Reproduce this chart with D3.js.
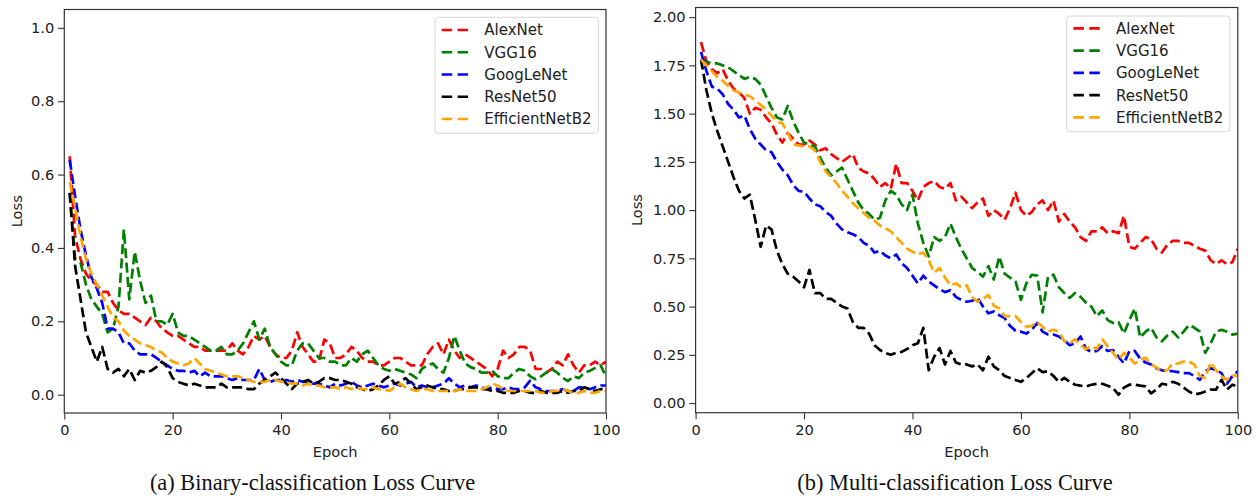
<!DOCTYPE html>
<html>
<head>
<meta charset="utf-8">
<script src="https://cdn.jsdelivr.net/npm/d3@7"></script>
<style>
  html, body { margin: 0; padding: 0; background: #fff; }
  svg { display: block; }
</style>
</head>
<body>
<svg id="chart" width="1260" height="498"></svg>
<script>
// ---------- DATA ----------
const seriesNames = ["AlexNet", "VGG16", "GoogLeNet", "ResNet50", "EfficientNetB2"];
const seriesColors = ["#ff0000", "#008000", "#0000ff", "#000000", "#ffa500"];
const epochs = d3.range(1, 101);

const xTicks = [0, 20, 40, 60, 80, 100];
const xTickLabels = ["0", "20", "40", "60", "80", "100"];
const yTicksA = [0, 0.2, 0.4, 0.6, 0.8, 1.0];
const yTickLabelsA = ["0.0", "0.2", "0.4", "0.6", "0.8", "1.0"];
const yTicksB = [0, 0.25, 0.5, 0.75, 1.0, 1.25, 1.5, 1.75, 2.0];
const yTickLabelsB = ["0.00", "0.25", "0.50", "0.75", "1.00", "1.25", "1.50", "1.75", "2.00"];

// (a) Binary-classification
const binAlexNet = [0.65,0.43,0.37,0.33,0.31,0.30,0.28,0.28,0.25,0.23,
  0.22,0.22,0.21,0.20,0.19,0.21,0.20,0.18,0.17,0.16,
  0.16,0.15,0.14,0.13,0.13,0.12,0.12,0.12,0.12,0.12,
  0.14,0.12,0.11,0.13,0.16,0.15,0.16,0.13,0.11,0.10,
  0.10,0.12,0.17,0.13,0.11,0.09,0.09,0.15,0.14,0.10,
  0.10,0.11,0.13,0.12,0.10,0.09,0.09,0.08,0.08,0.09,
  0.10,0.10,0.09,0.08,0.08,0.08,0.11,0.13,0.14,0.11,
  0.15,0.12,0.10,0.11,0.10,0.09,0.08,0.07,0.05,0.07,
  0.12,0.10,0.11,0.13,0.13,0.12,0.07,0.07,0.06,0.07,
  0.09,0.08,0.11,0.08,0.06,0.08,0.08,0.09,0.08,0.09];
const binVGG16 = [0.55,0.37,0.36,0.30,0.26,0.24,0.22,0.17,0.18,0.24,
  0.45,0.26,0.39,0.31,0.25,0.27,0.20,0.20,0.19,0.22,
  0.17,0.16,0.16,0.15,0.14,0.13,0.12,0.12,0.13,0.11,
  0.11,0.12,0.14,0.17,0.20,0.15,0.18,0.13,0.11,0.09,
  0.08,0.08,0.12,0.14,0.14,0.12,0.10,0.10,0.09,0.09,
  0.08,0.08,0.10,0.09,0.11,0.12,0.10,0.08,0.07,0.065,
  0.07,0.065,0.06,0.055,0.045,0.07,0.08,0.085,0.07,0.06,
  0.10,0.16,0.12,0.085,0.075,0.07,0.06,0.06,0.065,0.05,
  0.045,0.045,0.06,0.07,0.065,0.05,0.042,0.05,0.06,0.07,
  0.06,0.046,0.037,0.05,0.045,0.06,0.065,0.073,0.08,0.05];
const binGoogLeNet = [0.64,0.54,0.45,0.38,0.32,0.29,0.25,0.18,0.18,0.17,
  0.14,0.14,0.12,0.11,0.11,0.11,0.10,0.09,0.08,0.07,
  0.065,0.065,0.06,0.065,0.05,0.06,0.05,0.05,0.05,0.045,
  0.04,0.045,0.04,0.04,0.04,0.07,0.04,0.035,0.04,0.04,
  0.04,0.035,0.04,0.035,0.035,0.03,0.03,0.025,0.02,0.03,
  0.025,0.03,0.035,0.025,0.02,0.025,0.03,0.025,0.02,0.025,
  0.03,0.025,0.03,0.035,0.02,0.025,0.02,0.02,0.025,0.03,
  0.045,0.03,0.02,0.025,0.02,0.025,0.02,0.015,0.02,0.015,
  0.015,0.02,0.015,0.015,0.02,0.038,0.02,0.015,0.01,0.01,
  0.01,0.015,0.01,0.01,0.02,0.02,0.015,0.02,0.025,0.025];
const binResNet50 = [0.55,0.35,0.26,0.17,0.13,0.09,0.13,0.07,0.06,0.07,
  0.05,0.07,0.04,0.065,0.06,0.065,0.075,0.09,0.075,0.045,
  0.035,0.03,0.025,0.03,0.025,0.02,0.02,0.02,0.03,0.02,
  0.02,0.02,0.02,0.015,0.015,0.03,0.04,0.05,0.06,0.045,
  0.03,0.015,0.03,0.035,0.04,0.03,0.035,0.045,0.045,0.04,
  0.04,0.035,0.03,0.02,0.015,0.01,0.015,0.025,0.04,0.05,
  0.03,0.035,0.045,0.03,0.015,0.02,0.025,0.02,0.015,0.015,
  0.01,0.01,0.015,0.015,0.02,0.02,0.015,0.015,0.01,0.01,
  0.005,0.005,0.005,0.01,0.01,0.005,0.005,0.01,0.005,0.005,
  0.005,0.01,0.005,0.01,0.01,0.02,0.015,0.01,0.015,0.015];
const binEfficientNetB2 = [0.58,0.51,0.43,0.37,0.33,0.30,0.27,0.24,0.21,0.20,
  0.175,0.16,0.15,0.14,0.135,0.13,0.12,0.115,0.10,0.09,
  0.085,0.08,0.085,0.10,0.085,0.07,0.065,0.06,0.055,0.05,
  0.05,0.05,0.045,0.04,0.035,0.035,0.035,0.04,0.04,0.035,
  0.035,0.03,0.03,0.025,0.03,0.025,0.025,0.02,0.02,0.02,
  0.015,0.02,0.015,0.02,0.015,0.015,0.02,0.015,0.015,0.01,
  0.02,0.03,0.02,0.015,0.01,0.015,0.015,0.01,0.01,0.01,
  0.01,0.01,0.015,0.01,0.01,0.01,0.015,0.02,0.03,0.025,
  0.015,0.01,0.01,0.01,0.01,0.01,0.01,0.005,0.005,0.01,
  0.01,0.015,0.01,0.005,0.005,0.01,0.005,0.005,0.01,0.01];

// (b) Multi-classification
const mulAlexNet = [1.87,1.77,1.73,1.71,1.73,1.67,1.63,1.61,1.58,1.50,
  1.53,1.52,1.48,1.45,1.39,1.35,1.40,1.37,1.34,1.34,
  1.36,1.34,1.31,1.32,1.29,1.27,1.25,1.27,1.29,1.22,
  1.20,1.19,1.16,1.12,1.14,1.11,1.24,1.14,1.14,1.10,
  1.05,1.12,1.14,1.15,1.12,1.11,1.14,1.05,1.07,1.04,
  1.01,1.04,1.06,0.97,1.00,0.98,0.95,1.01,1.09,1.00,
  0.97,0.99,1.03,1.05,1.00,1.05,0.94,0.98,0.94,0.91,
  0.86,0.84,0.89,0.89,0.91,0.88,0.89,0.88,0.97,0.81,
  0.80,0.83,0.86,0.85,0.80,0.78,0.82,0.84,0.84,0.83,
  0.83,0.815,0.80,0.79,0.74,0.72,0.74,0.72,0.73,0.80];
const mulVGG16 = [1.78,1.77,1.76,1.76,1.75,1.74,1.72,1.70,1.68,1.69,
  1.68,1.65,1.59,1.53,1.48,1.47,1.54,1.46,1.40,1.35,
  1.34,1.33,1.27,1.22,1.18,1.20,1.22,1.16,1.10,1.04,
  1.00,0.98,0.95,0.96,1.05,1.10,1.08,1.03,1.00,1.08,
  0.93,0.83,0.76,0.86,0.84,0.86,0.93,0.86,0.80,0.75,
  0.70,0.68,0.655,0.71,0.64,0.76,0.67,0.65,0.63,0.535,
  0.62,0.665,0.66,0.47,0.655,0.665,0.60,0.57,0.545,0.57,
  0.55,0.52,0.50,0.45,0.48,0.43,0.415,0.42,0.36,0.43,
  0.49,0.34,0.37,0.39,0.34,0.32,0.35,0.37,0.34,0.37,
  0.405,0.39,0.37,0.26,0.31,0.37,0.38,0.37,0.355,0.36];
const mulGoogLeNet = [1.82,1.72,1.64,1.63,1.60,1.55,1.52,1.48,1.49,1.42,
  1.37,1.34,1.31,1.30,1.25,1.21,1.18,1.13,1.10,1.095,
  1.06,1.03,1.02,0.99,0.97,0.93,0.90,0.885,0.875,0.86,
  0.83,0.815,0.78,0.79,0.765,0.75,0.77,0.725,0.70,0.66,
  0.62,0.66,0.63,0.61,0.59,0.575,0.585,0.55,0.535,0.525,
  0.53,0.545,0.50,0.465,0.475,0.455,0.44,0.40,0.375,0.37,
  0.36,0.38,0.415,0.37,0.355,0.355,0.345,0.325,0.30,0.31,
  0.345,0.28,0.265,0.27,0.295,0.27,0.275,0.24,0.205,0.27,
  0.27,0.23,0.21,0.20,0.18,0.17,0.165,0.165,0.16,0.155,
  0.155,0.14,0.12,0.165,0.18,0.17,0.155,0.10,0.14,0.165];
const mulResNet50 = [1.78,1.62,1.50,1.41,1.33,1.25,1.17,1.10,1.06,1.08,
  0.95,0.81,0.92,0.90,0.79,0.72,0.67,0.655,0.63,0.60,
  0.69,0.57,0.57,0.54,0.54,0.52,0.50,0.49,0.42,0.39,
  0.39,0.36,0.30,0.275,0.26,0.25,0.26,0.265,0.28,0.30,
  0.31,0.39,0.17,0.24,0.285,0.20,0.27,0.21,0.20,0.20,
  0.19,0.20,0.17,0.24,0.19,0.17,0.14,0.13,0.12,0.11,
  0.13,0.155,0.18,0.16,0.165,0.14,0.11,0.13,0.11,0.095,
  0.09,0.086,0.095,0.10,0.10,0.09,0.078,0.043,0.08,0.095,
  0.095,0.09,0.086,0.05,0.07,0.10,0.095,0.11,0.10,0.08,
  0.06,0.045,0.05,0.06,0.07,0.07,0.12,0.07,0.095,0.086];
const mulEfficientNetB2 = [1.78,1.75,1.72,1.69,1.67,1.645,1.62,1.61,1.60,1.59,
  1.57,1.545,1.52,1.49,1.46,1.45,1.40,1.34,1.335,1.33,
  1.33,1.31,1.25,1.20,1.17,1.14,1.10,1.07,1.035,1.01,
  0.985,0.96,0.945,0.92,0.905,0.89,0.86,0.83,0.80,0.785,
  0.77,0.78,0.74,0.675,0.70,0.65,0.61,0.62,0.60,0.61,
  0.55,0.525,0.54,0.56,0.505,0.49,0.45,0.45,0.45,0.42,
  0.395,0.40,0.42,0.395,0.37,0.38,0.37,0.32,0.31,0.33,
  0.30,0.28,0.295,0.28,0.33,0.295,0.26,0.225,0.26,0.235,
  0.205,0.225,0.235,0.20,0.185,0.165,0.17,0.205,0.205,0.215,
  0.215,0.20,0.14,0.13,0.21,0.17,0.14,0.12,0.145,0.14];

const captionA = "(a) Binary-classification Loss Curve";
const captionB = "(b) Multi-classification Loss Curve";

// ---------- DRAW ----------
const svg = d3.select("#chart");
const sans = "'DejaVu Sans', sans-serif";
const serif = "'Liberation Serif', 'Times New Roman', serif";

const panels = [
  { left: 64.3, right: 606, top: 9.5, bottom: 413, yDomain: [-0.05, 1.05],
    yTicks: yTicksA, yLabels: yTickLabelsA,
    series: [binAlexNet, binVGG16, binGoogLeNet, binResNet50, binEfficientNetB2],
    legend: { x: 435, y: 17.3, w: 163.3, h: 116, rowY0: 30, rowStep: 22.25 },
    lossX: 21.5, caption: captionA, capX: 312.5 },
  { left: 695.6, right: 1237.8, top: 7.5, bottom: 412.7, yDomain: [-0.05, 2.05],
    yTicks: yTicksB, yLabels: yTickLabelsB,
    series: [mulAlexNet, mulVGG16, mulGoogLeNet, mulResNet50, mulEfficientNetB2],
    legend: { x: 1066.7, y: 16, w: 163.3, h: 115.7, rowY0: 28.4, rowStep: 22.25 },
    lossX: 641.5, caption: captionB, capX: 955 }
];

panels.forEach((p, pi) => {
  const x = d3.scaleLinear().domain([0, 100]).range([p.left, p.right]);
  const y = d3.scaleLinear().domain(p.yDomain).range([p.bottom, p.top]);
  const g = svg.append("g");

  const clipId = "clip" + pi;
  svg.append("clipPath").attr("id", clipId).append("rect")
    .attr("x", p.left).attr("y", p.top)
    .attr("width", p.right - p.left).attr("height", p.bottom - p.top);

  // lines
  const line = d3.line().x((d, i) => x(epochs[i])).y(d => y(d));
  const lg = g.append("g").attr("clip-path", `url(#${clipId})`);
  p.series.forEach((s, si) => {
    lg.append("path").datum(s)
      .attr("d", line)
      .attr("fill", "none")
      .attr("stroke", seriesColors[si])
      .attr("stroke-width", 2.7)
      .attr("stroke-dasharray", "10,4.4")
      .attr("stroke-linejoin", "round");
  });

  // axes
  const xAxis = d3.axisBottom(x).tickValues(xTicks)
    .tickFormat((d, i) => xTickLabels[i]).tickSize(6.5).tickPadding(5.5).tickSizeOuter(0);
  const yAxis = d3.axisLeft(y).tickValues(p.yTicks)
    .tickFormat((d, i) => p.yLabels[i]).tickSize(6.3).tickPadding(3.8).tickSizeOuter(0);

  const gx = g.append("g").attr("transform", `translate(0,${p.bottom})`).call(xAxis);
  const gy = g.append("g").attr("transform", `translate(${p.left},0)`).call(yAxis);
  [gx, gy].forEach(a => {
    a.select(".domain").remove();
    a.selectAll(".tick line").attr("stroke", "#333").attr("stroke-width", 1.1);
    a.selectAll(".tick text").attr("fill", "#222")
      .style("font-family", sans).style("font-size", "14.6px");
  });

  // frame
  g.append("rect")
    .attr("x", p.left).attr("y", p.top)
    .attr("width", p.right - p.left).attr("height", p.bottom - p.top)
    .attr("fill", "none").attr("stroke", "#333").attr("stroke-width", 1.2);

  // axis labels
  g.append("text")
    .attr("x", (p.left + p.right) / 2).attr("y", 456.5)
    .attr("text-anchor", "middle")
    .style("font-family", sans).style("font-size", "14.6px").attr("fill", "#222")
    .text("Epoch");
  g.append("text")
    .attr("transform", `translate(${p.lossX},${(p.top + p.bottom) / 2}) rotate(-90)`)
    .attr("text-anchor", "middle")
    .style("font-family", sans).style("font-size", "14.6px").attr("fill", "#222")
    .text("Loss");

  // legend
  const L = p.legend;
  const leg = g.append("g");
  leg.append("rect")
    .attr("x", L.x).attr("y", L.y).attr("width", L.w).attr("height", L.h)
    .attr("rx", 3.5).attr("ry", 3.5)
    .attr("fill", "#fff").attr("fill-opacity", 0.85)
    .attr("stroke", "#d6d6d6").attr("stroke-width", 1);
  seriesNames.forEach((name, si) => {
    const ry = L.rowY0 + si * L.rowStep;
    leg.append("line")
      .attr("x1", L.x + 6.7).attr("x2", L.x + 33.3)
      .attr("y1", ry).attr("y2", ry)
      .attr("stroke", seriesColors[si]).attr("stroke-width", 2.7)
      .attr("stroke-dasharray", "10.5,5.4");
    leg.append("text")
      .attr("x", L.x + 49.3).attr("y", ry).attr("dy", "0.36em")
      .style("font-family", sans).style("font-size", "15px").attr("fill", "#222")
      .text(name);
  });

  // caption
  svg.append("text")
    .attr("x", p.capX).attr("y", 489.5)
    .attr("text-anchor", "middle")
    .style("font-family", serif).style("font-size", "22.4px").attr("fill", "#111")
    .text(p.caption);
});
</script>
</body>
</html>
